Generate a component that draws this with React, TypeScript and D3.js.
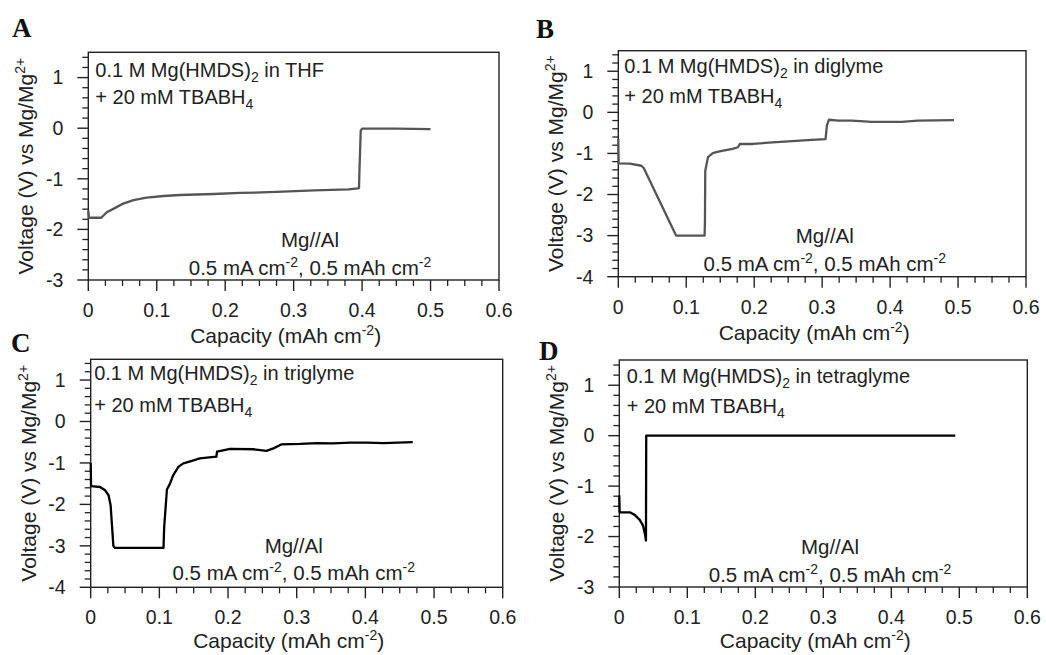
import React from "react";
import * as d3 from "d3";

// ---------- data ----------
const capA = [0, 0.001, 0.019, 0.027, 0.04, 0.051, 0.066, 0.085, 0.11, 0.134, 0.183, 0.222, 0.275, 0.33, 0.38, 0.394, 0.3955, 0.396, 0.398, 0.4, 0.45, 0.5];
const voltA = [-1.63, -1.77, -1.77, -1.66, -1.57, -1.49, -1.42, -1.37, -1.34, -1.32, -1.3, -1.28, -1.26, -1.23, -1.21, -1.19, -1.18, -0.9, -0.05, -0.01, -0.01, -0.02];

const capB = [0, 0.0005, 0.017, 0.034, 0.0376, 0.085, 0.127, 0.1275, 0.128, 0.132, 0.139, 0.149, 0.168, 0.176, 0.179, 0.198, 0.227, 0.256, 0.285, 0.305, 0.307, 0.31, 0.324, 0.344, 0.373, 0.417, 0.441, 0.494];
const voltB = [-0.65, -1.24, -1.25, -1.3, -1.36, -3.0, -3.0, -2.67, -1.42, -1.09, -0.99, -0.95, -0.89, -0.85, -0.77, -0.77, -0.73, -0.7, -0.67, -0.65, -0.32, -0.18, -0.2, -0.2, -0.23, -0.23, -0.2, -0.19];

const capC = [0, 0.0005, 0.0136, 0.021, 0.026, 0.029, 0.031, 0.033, 0.0354, 0.106, 0.107, 0.111, 0.1155, 0.12, 0.128, 0.135, 0.145, 0.159, 0.183, 0.184, 0.203, 0.237, 0.256, 0.266, 0.278, 0.305, 0.329, 0.353, 0.378, 0.402, 0.426, 0.469];
const voltC = [-1.0, -1.56, -1.58, -1.66, -1.78, -2.02, -2.51, -3.0, -3.05, -3.05, -2.55, -1.64, -1.5, -1.3, -1.09, -1.01, -0.96, -0.89, -0.85, -0.73, -0.66, -0.67, -0.71, -0.65, -0.55, -0.54, -0.52, -0.53, -0.51, -0.51, -0.52, -0.5];

const capD = [0, 0.0005, 0.0155, 0.0227, 0.03, 0.0348, 0.0377, 0.0392, 0.0396, 0.2, 0.494];
const voltD = [-1.18, -1.52, -1.52, -1.57, -1.67, -1.78, -1.95, -2.08, 0, 0, 0];

const xTickValues = [0, 0.1, 0.2, 0.3, 0.4, 0.5, 0.6];
const xTickLabels = ["0", "0.1", "0.2", "0.3", "0.4", "0.5", "0.6"];
const yTicks3 = [-3, -2, -1, 0, 1];
const yTicks4 = [-4, -3, -2, -1, 0, 1];

const solvents = ["THF", "diglyme", "triglyme", "tetraglyme"];
const letters = ["A", "B", "C", "D"];

// ---------- layout ----------
const FONT = "'Liberation Sans', Arial, Helvetica, sans-serif";
const TXT = "#222";

const panels = [
  { cap: capA, volt: voltA, yMin: -3, yTicks: yTicks3, color: "#555", left: 88.3, top: 52.3, right: 499, bottom: 280,
    letterPos: [12, 37], t1: [7, 24.4], t2: 52, mgX: 221.7, mgY: 33.3, cY: 5, xlabY: 63 },
  { cap: capB, volt: voltB, yMin: -4, yTicks: yTicks4, color: "#555", left: 618.3, top: 50.7, right: 1026, bottom: 276.7,
    letterPos: [536, 38], t1: [6, 22.6], t2: 52.6, mgX: 206.5, mgY: 34, cY: 6, xlabY: 63 },
  { cap: capC, volt: voltC, yMin: -4, yTicks: yTicks4, color: "#000", left: 90.7, top: 359.3, right: 502.7, bottom: 587.3,
    letterPos: [11, 352], t1: [3.5, 20.7], t2: 52.4, mgX: 203, mgY: 34.6, cY: 7.3, xlabY: 61 },
  { cap: capD, volt: voltD, yMin: -3, yTicks: yTicks3, color: "#000", left: 619.3, top: 360, right: 1027.3, bottom: 587,
    letterPos: [539, 360], t1: [7.4, 23.3], t2: 53.3, mgX: 210.7, mgY: 32.7, cY: 5.3, xlabY: 61 },
];

function Panel({ p, i }: { p: any; i: number }) {
  const x = d3.scaleLinear().domain([0, 0.6]).range([p.left, p.right]);
  const y = d3.scaleLinear().domain([p.yMin, 1.5]).range([p.bottom, p.top]);
  const pts: [number, number][] = p.cap.map((c: number, k: number) => [c, p.volt[k]]);
  const line = d3.line<[number, number]>().x((d) => x(d[0])).y((d) => y(d[1]));
  const xMinor = d3.range(0, 0.6001, 0.025).filter((v) => Math.abs(v * 10 - Math.round(v * 10)) > 1e-6);
  const yMinor = d3.range(p.yMin, 1.5001, 0.2).filter((v) => Math.abs(v - Math.round(v)) > 1e-6);
  const cx = (p.left + p.right) / 2 - 8;
  return (
    <g>
      <text x={p.letterPos[0]} y={p.letterPos[1]} fontFamily="'Liberation Serif', 'Times New Roman', serif" fontWeight="bold" fontSize={27} fill="#111">
        {letters[i]}
      </text>
      <rect x={p.left} y={p.top} width={p.right - p.left} height={p.bottom - p.top} fill="none" stroke="#222" strokeWidth={1.4} />
      {xTickValues.map((v, k) => (
        <g key={"xt" + k}>
          <line x1={x(v)} x2={x(v)} y1={p.bottom} y2={p.bottom + 11} stroke="#222" strokeWidth={1.4} />
          <text x={x(v)} y={p.bottom + 37} textAnchor="middle" fontFamily={FONT} fontSize={19.5} fill={TXT}>
            {xTickLabels[k]}
          </text>
        </g>
      ))}
      {xMinor.map((v, k) => (
        <line key={"xm" + k} x1={x(v)} x2={x(v)} y1={p.bottom} y2={p.bottom + 6} stroke="#222" strokeWidth={1.3} />
      ))}
      {p.yTicks.map((v: number, k: number) => (
        <g key={"yt" + k}>
          <line x1={p.left - 11} x2={p.left} y1={y(v)} y2={y(v)} stroke="#222" strokeWidth={1.4} />
          <text x={p.left - 25} y={y(v)} dy="0.35em" textAnchor="end" fontFamily={FONT} fontSize={19.5} fill={TXT}>
            {String(v)}
          </text>
        </g>
      ))}
      {yMinor.map((v, k) => (
        <line key={"ym" + k} x1={p.left - 6} x2={p.left} y1={y(v)} y2={y(v)} stroke="#222" strokeWidth={1.3} />
      ))}
      <text x={cx} y={p.bottom + p.xlabY} textAnchor="middle" fontFamily={FONT} fontSize={21} fill={TXT}>
        Capacity (mAh cm<tspan fontSize={14} dy={-8}>-2</tspan>
        <tspan dy={8}>)</tspan>
      </text>
      <text
        transform={`translate(${p.left - 55},${(p.top + p.bottom) / 2}) rotate(-90)`}
        textAnchor="middle" fontFamily={FONT} fontSize={21} fill={TXT}
      >
        Voltage (V) vs Mg/Mg<tspan fontSize={14} dy={-8}>2+</tspan>
      </text>
      <path d={line(pts) || ""} fill="none" stroke={p.color} strokeWidth={2.3} strokeLinejoin="round" />
      <text x={p.left + p.t1[0]} y={p.top + p.t1[1]} fontFamily={FONT} fontSize={20} fill={TXT}>
        0.1 M Mg(HMDS)<tspan fontSize={14} dy={5}>2</tspan>
        <tspan dy={-5}> in {solvents[i]}</tspan>
      </text>
      <text x={p.left + p.t1[0]} y={p.top + p.t2} fontFamily={FONT} fontSize={20} fill={TXT}>
        + 20 mM TBABH<tspan fontSize={14} dy={5}>4</tspan>
      </text>
      <text x={p.left + p.mgX} y={p.bottom - p.mgY} textAnchor="middle" fontFamily={FONT} fontSize={20.5} fill={TXT}>
        Mg//Al
      </text>
      <text x={p.left + p.mgX} y={p.bottom - p.cY} textAnchor="middle" fontFamily={FONT} fontSize={20.5} fill={TXT}>
        0.5 mA cm<tspan fontSize={14} dy={-8}>-2</tspan>
        <tspan dy={8}>, 0.5 mAh cm</tspan>
        <tspan fontSize={14} dy={-8}>-2</tspan>
      </text>
    </g>
  );
}

export default function App() {
  return (
    <svg width={1046} height={655} style={{ position: "absolute", left: 0, top: 0, background: "#fff" }}>
      <rect width={1046} height={655} fill="#fff" />
      {panels.map((p, i) => (
        <Panel key={i} p={p} i={i} />
      ))}
    </svg>
  );
}
